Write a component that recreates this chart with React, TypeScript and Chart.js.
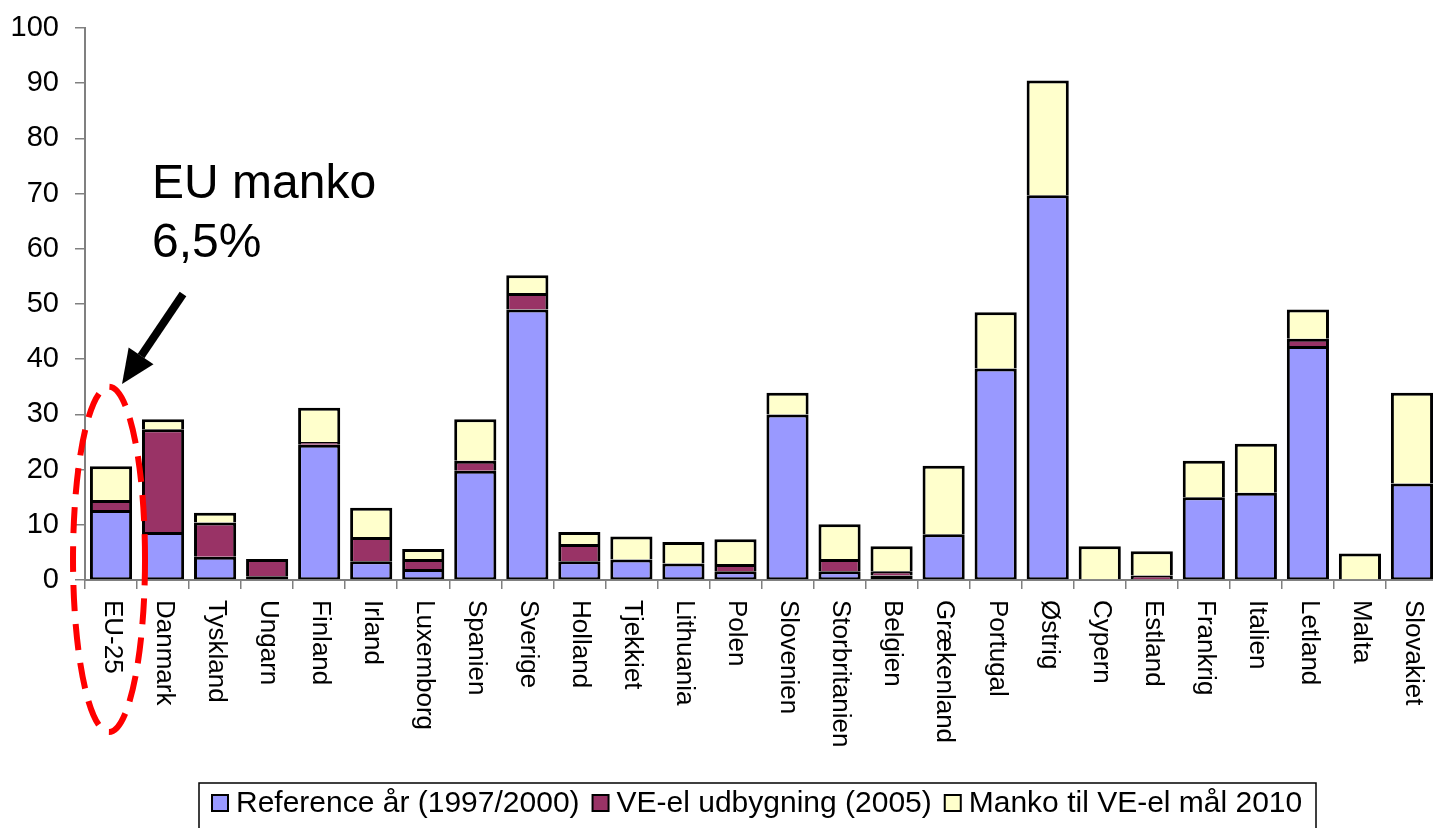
import React, { useEffect, useRef } from "react";
import { Chart, registerables } from "chart.js";

Chart.register(...registerables);

const categories = [
  "EU-25", "Danmark", "Tyskland", "Ungarn", "Finland", "Irland", "Luxemborg", "Spanien",
  "Sverige", "Holland", "Tjekkiet", "Lithuania", "Polen", "Slovenien", "Storbritanien",
  "Belgien", "Grækenland", "Portugal", "Østrig", "Cypern", "Estland", "Frankrig",
  "Italien", "Letland", "Malta", "Slovakiet",
];

const referenceValues = [12.7, 8.7, 4.2, 0.7, 24.5, 3.4, 2.0, 19.8, 49.0, 3.4, 3.7, 3.0, 1.6, 30.0, 1.6, 0.8, 8.3, 38.3, 69.7, 0, 0, 15.0, 15.8, 42.4, 0, 17.5];
const udbygningValues = [1.8, 18.6, 6.2, 3.1, 0.5, 4.4, 1.8, 1.8, 3.0, 3.1, 0, 0, 1.3, 0, 2.2, 0.8, 0, 0, 0, 0, 0.8, 0, 0, 1.3, 0, 0];
const mankoValues = [6.1, 1.8, 1.8, 0, 6.2, 5.3, 1.8, 7.5, 3.2, 2.2, 4.2, 3.9, 4.5, 3.9, 6.3, 4.5, 12.4, 10.2, 20.8, 6.1, 4.4, 6.6, 8.9, 5.3, 4.8, 16.4];

const seriesNames = ["Reference år (1997/2000)", "VE-el udbygning (2005)", "Manko til VE-el mål 2010"];
const seriesColors = ["#9999FF", "#993366", "#FFFFCC"];
const yTicks = { min: 0, max: 100, step: 10 };
const annotationLines = ["EU manko", "6,5%"];

const FONT = "'Liberation Sans', Arial, sans-serif";

const overlayPlugin = {
  id: "overlay",
  afterDraw(chart: any) {
    const ctx = chart.ctx;
    const xs = chart.scales.x;
    const ys = chart.scales.y;
    const area = chart.chartArea;
    ctx.save();
    // x labels rotated clockwise
    ctx.fillStyle = "#000";
    ctx.font = `26px ${FONT}`;
    ctx.textAlign = "left";
    ctx.textBaseline = "middle";
    categories.forEach((c, i) => {
      const x = xs.getPixelForValue(i);
      ctx.save();
      ctx.translate(x + 1, area.bottom + 20);
      ctx.rotate(Math.PI / 2);
      ctx.fillText(c, 0, 0);
      ctx.restore();
    });

    // annotation text
    ctx.font = `48px ${FONT}`;
    ctx.textBaseline = "alphabetic";
    ctx.fillText(annotationLines[0], 152, 198);
    ctx.fillText(annotationLines[1], 152, 257);

    // arrow
    const tipX = xs.getPixelForValue(0) + 11;
    const tipY = ys.getPixelForValue(35.5);
    const tailX = 183;
    const tailY = 294;
    const ang = Math.atan2(tipY - tailY, tipX - tailX);
    const headLen = 34;
    const headW = 15;
    const baseX = tipX - headLen * Math.cos(ang);
    const baseY = tipY - headLen * Math.sin(ang);
    ctx.strokeStyle = "#000";
    ctx.lineWidth = 8;
    ctx.beginPath();
    ctx.moveTo(tailX, tailY);
    ctx.lineTo(baseX, baseY);
    ctx.stroke();
    ctx.beginPath();
    ctx.moveTo(tipX, tipY);
    ctx.lineTo(baseX + headW * Math.sin(ang), baseY - headW * Math.cos(ang));
    ctx.lineTo(baseX - headW * Math.sin(ang), baseY + headW * Math.cos(ang));
    ctx.closePath();
    ctx.fillStyle = "#000";
    ctx.fill();

    // red dashed ellipse
    const cx = xs.getPixelForValue(0) - 2;
    const top = ys.getPixelForValue(35);
    const bottom = area.bottom + 152;
    ctx.strokeStyle = "#FF0000";
    ctx.lineWidth = 6;
    ctx.setLineDash([26, 13]);
    ctx.beginPath();
    ctx.ellipse(cx, (top + bottom) / 2, 36, (bottom - top) / 2, 0, 0, Math.PI * 2);
    ctx.stroke();
    ctx.setLineDash([]);

    // legend
    const lx = 199;
    const ly = 783;
    ctx.strokeStyle = "#000";
    ctx.lineWidth = 1.5;
    ctx.strokeRect(lx, ly, 1117, 70);
    ctx.font = `30px ${FONT}`;
    ctx.textBaseline = "middle";
    let px = 212;
    const midY = 803;
    seriesNames.forEach((name, i) => {
      ctx.fillStyle = seriesColors[i];
      ctx.fillRect(px, midY - 8, 16, 16);
      ctx.lineWidth = 2;
      ctx.strokeRect(px, midY - 8, 16, 16);
      ctx.fillStyle = "#000";
      ctx.fillText(name, px + 24, midY + 1);
      px += 24 + ctx.measureText(name).width + 13;
    });
    ctx.restore();
  },
};

export default function App() {
  const ref = useRef<HTMLCanvasElement | null>(null);
  useEffect(() => {
    if (!ref.current) return;
    const values = [referenceValues, udbygningValues, mankoValues];
    const chart = new Chart(ref.current, {
      type: "bar",
      data: {
        labels: categories,
        datasets: seriesNames.map((n, i) => ({
          label: n,
          data: values[i],
          backgroundColor: seriesColors[i],
          borderColor: "#000",
          borderWidth: { top: 3, left: 3, right: 3, bottom: i === 0 ? 2 : 0 },
          borderSkipped: false,
          barPercentage: 0.81,
          categoryPercentage: 1,
        })),
      },
      options: {
        responsive: false,
        animation: false,
        layout: { padding: { top: 28, right: 42, bottom: 0, left: 0 } },
        plugins: { legend: { display: false }, tooltip: { enabled: false } },
        scales: {
          x: {
            stacked: true,
            grid: { display: true, drawOnChartArea: false, drawTicks: true, tickLength: 9, color: "#808080", lineWidth: 1.5, offset: true },
            border: { color: "#808080", width: 2 },
            ticks: { display: false },
            afterFit: (s: any) => { s.height = 248; s.paddingLeft = 0; s.paddingRight = 0; },
          },
          y: {
            stacked: true,
            min: yTicks.min,
            max: yTicks.max,
            grid: { display: true, drawOnChartArea: false, drawTicks: true, tickLength: 10, color: "#808080", lineWidth: 1.5 },
            border: { color: "#808080", width: 2 },
            ticks: { stepSize: yTicks.step, color: "#000", font: { size: 29, family: FONT }, padding: 16 },
            afterFit: (s: any) => { s.width = 85; s.paddingTop = 0; s.paddingBottom = 0; },
          },
        },
      },
      plugins: [overlayPlugin],
    });
    return () => chart.destroy();
  }, []);
  return (
    <div style={{ position: "fixed", left: 0, top: 0, width: 1433, height: 828, overflow: "hidden", background: "#fff" }}>
      <canvas ref={ref} width={1480} height={828} style={{ display: "block" }} />
    </div>
  );
}
